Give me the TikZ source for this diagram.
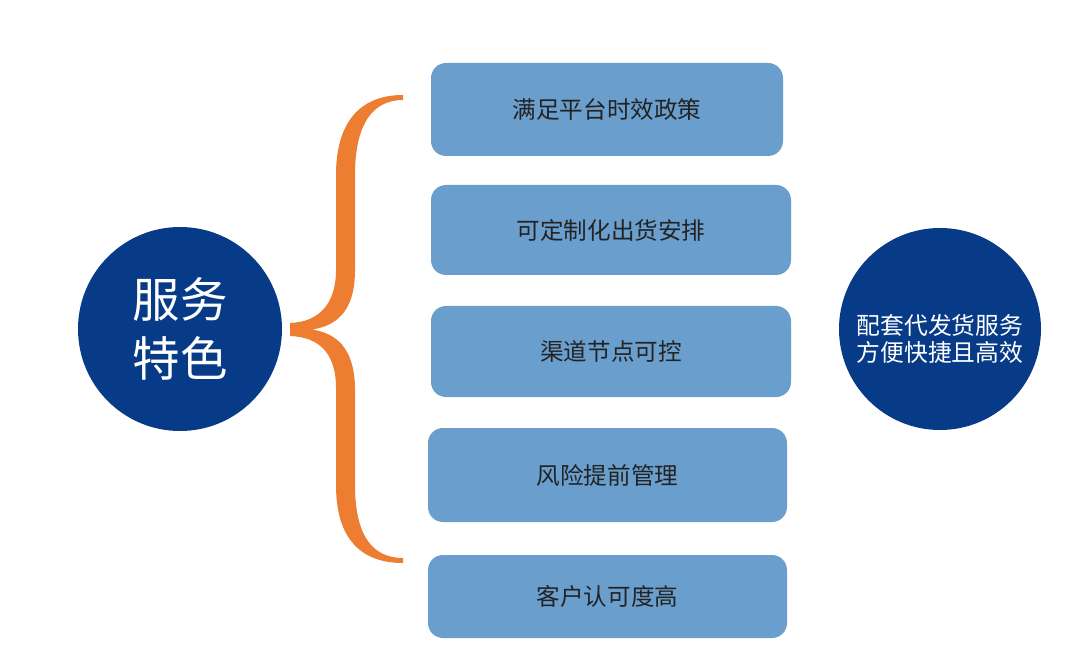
\documentclass[tikz,border=0pt]{standalone}
\usepackage{fontspec}
\newfontfamily\cjk{Noto Sans CJK SC}
\definecolor{navy}{RGB}{7,58,135}
\definecolor{boxblue}{RGB}{106,158,204}
\definecolor{bracecol}{RGB}{237,125,49}
\definecolor{txt}{RGB}{35,35,35}
\begin{document}
\begin{tikzpicture}[x=1pt,y=-1pt,
  item/.style={fill=boxblue,rounded corners=15pt,inner sep=0pt,text=txt,font=\cjk\fontsize{23.6}{28}\selectfont},
  disc/.style={circle,fill=navy,inner sep=0pt,text=white,align=center}]
\useasboundingbox (0,0) rectangle (1076,652);
\fill[white] (0,0) rectangle (1076,652);
\node[disc,minimum size=204pt,font=\cjk\fontsize{47.5}{59}\selectfont] (left) at (180,329) {服务\\特色};
\node[disc,minimum size=202pt] (right) at (940,329) {};
\node[text=white,align=center,inner sep=0pt,font=\cjk\fontsize{23.8}{27}\selectfont] (rtext) at ([yshift=-10pt]right.center) {配套代发货服务\\方便快捷且高效};
\node[item,minimum width=352pt,minimum height=93pt] (b1) at (607,109.5) {满足平台时效政策};
\node[item,minimum width=360pt,minimum height=90pt] (b2) at (611,230) {\raisebox{-3pt}{可定制化出货安排}};
\node[item,minimum width=360pt,minimum height=91pt] (b3) at (611,351.5) {\raisebox{-2pt}{渠道节点可控}};
\node[item,minimum width=359pt,minimum height=94pt] (b4) at (607.5,475) {\raisebox{-2pt}{风险提前管理}};
\node[item,minimum width=359pt,minimum height=83pt] (b5) at (607.5,596.5) {客户认可度高};
\fill[bracecol] (403,95) .. controls (362,95) and (336,120) .. (336,175) -- (336,270)
  .. controls (336,305) and (318,322) .. (290,323) -- (290,336)
  .. controls (318,337) and (336,352) .. (336,388) -- (336,485)
  .. controls (336,540) and (362,563) .. (403,563) -- (403,558)
  .. controls (372,558) and (355,535) .. (355,485) -- (355,390)
  .. controls (355,355) and (342,334) .. (312,329.5)
  .. controls (342,325) and (355,305) .. (355,270) -- (355,175)
  .. controls (355,125) and (372,100) .. (403,100) -- cycle;
\end{tikzpicture}
\end{document}
